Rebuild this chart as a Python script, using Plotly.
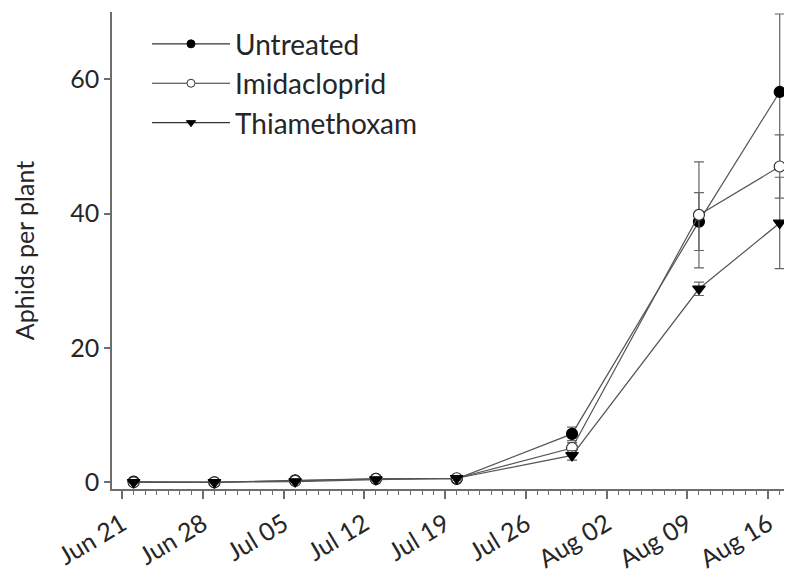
import plotly.graph_objects as go

dates = ["2014-06-22", "2014-06-29", "2014-07-06", "2014-07-13", "2014-07-20",
         "2014-07-30", "2014-08-10", "2014-08-17"]
untreated = [0.1, 0.0, 0.3, 0.5, 0.5, 7.2, 38.8, 58.1]
untreated_err = [0.1, 0.1, 0.2, 0.2, 0.3, 1.0, 4.3, 11.6]
imidacloprid = [0.0, 0.0, 0.2, 0.5, 0.6, 5.1, 39.8, 47.0]
imidacloprid_err = [0.1, 0.1, 0.1, 0.2, 0.3, 0.8, 7.9, 4.7]
thiamethoxam = [0.0, 0.0, 0.1, 0.4, 0.6, 4.0, 28.8, 38.6]
thiamethoxam_err = [0.1, 0.1, 0.1, 0.2, 0.3, 0.7, 1.0, 6.8]
tick_vals = ["2014-06-21", "2014-06-28", "2014-07-05", "2014-07-12", "2014-07-19",
             "2014-07-26", "2014-08-02", "2014-08-09", "2014-08-16"]
tick_text = ["Jun 21", "Jun 28", "Jul 05", "Jul 12", "Jul 19",
             "Jul 26", "Aug 02", "Aug 09", "Aug 16"]

FONT = "Lato, Open Sans, sans-serif"
TXT = "#262626"
LINE = "#555555"
ERR = "#666666"
AX = "#6e6e6e"

fig = go.Figure()

series = [
    ("Untreated", untreated, untreated_err, "circle", "black", "black"),
    ("Imidacloprid", imidacloprid, imidacloprid_err, "circle", "white", "#333333"),
    ("Thiamethoxam", thiamethoxam, thiamethoxam_err, "triangle-down", "black", "black"),
]

for i, (name, vals, err, sym, fill, edge) in enumerate(series):
    fig.add_trace(go.Scatter(
        x=dates, y=vals, name=name, mode="lines+markers", showlegend=False,
        line=dict(color=LINE, width=1.2),
        marker=dict(symbol=sym, color=fill, size=11, line=dict(color=edge, width=1.2)),
        error_y=dict(type="data", array=err, visible=True, color=ERR, thickness=1.2, width=5),
        cliponaxis=False,
    ))
    fig.add_trace(go.Scatter(
        x=[None], y=[None], name=name, mode="lines+markers", legendgroup=f"g{i}",
        line=dict(color="#333333", width=1.2),
        marker=dict(symbol=sym, color=fill, size=8, line=dict(color=edge, width=1)),
    ))

fig.update_layout(
    template="none",
    width=792, height=577,
    margin=dict(l=104, r=15, t=4, b=96, autoexpand=False),
    paper_bgcolor="white", plot_bgcolor="white",
    font=dict(family=FONT, size=24, color=TXT),
    showlegend=True,
    legend=dict(x=0.052, y=0.985, xanchor="left", yanchor="top",
                bgcolor="rgba(0,0,0,0)", font=dict(size=28, family=FONT, color=TXT),
                itemwidth=78, tracegroupgap=0),
    xaxis=dict(
        type="date", automargin=False,
        range=["2014-06-20 03:00", "2014-08-17 11:00"],
        tickvals=tick_vals, ticktext=tick_text, tickangle=-31,
        ticks="outside", ticklen=8, tickcolor=AX, tickwidth=1.5,
        showline=True, linecolor=AX, linewidth=1.5,
        showgrid=False, zeroline=False, ticklabelstandoff=1,
        tickfont=dict(size=25, family=FONT, color=TXT),
        minor=dict(dtick=86400000, ticks="outside", ticklen=4, tickcolor=AX,
                   tickwidth=1, showgrid=False),
    ),
    yaxis=dict(
        automargin=False,
        range=[-1, 70],
        tickvals=[0, 20, 40, 60],
        ticks="outside", ticklen=6, tickcolor=AX, tickwidth=1.5,
        showline=True, linecolor=AX, linewidth=1.5,
        showgrid=False, zeroline=False,
        tickfont=dict(size=25, family=FONT, color=TXT),
        title=dict(text="Aphids per plant", font=dict(size=25, family=FONT, color=TXT),
                   standoff=28),
    ),
)

fig.write_html("out.html")
